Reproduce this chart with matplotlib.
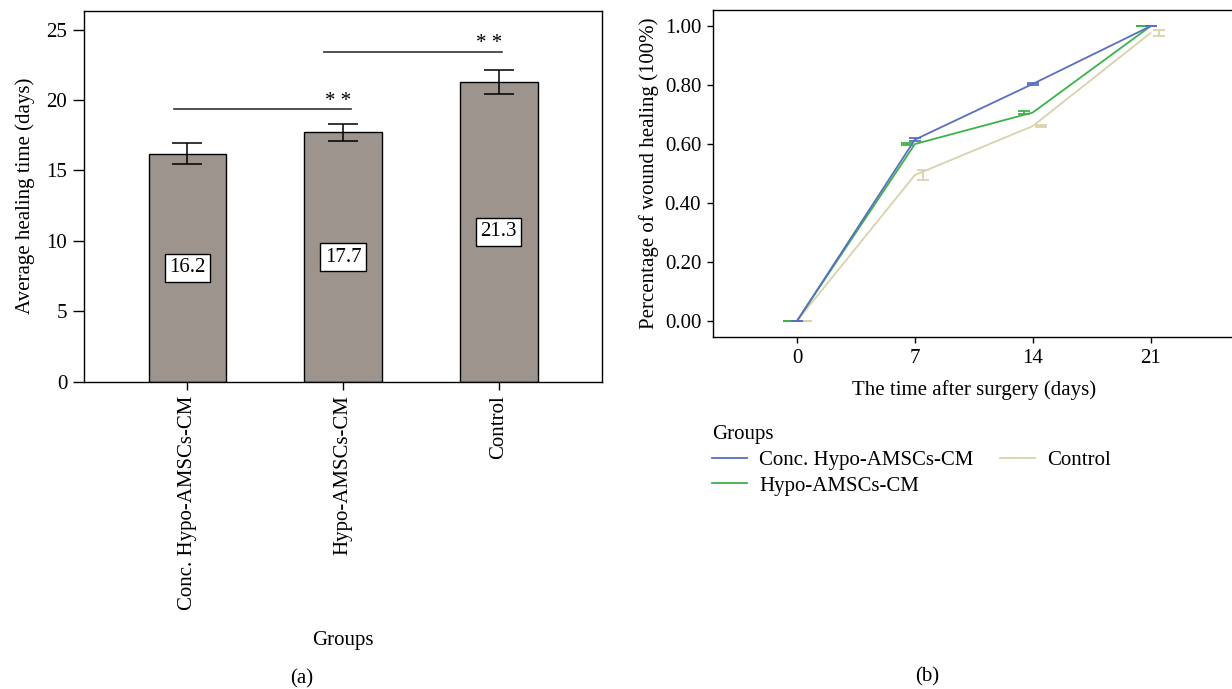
import matplotlib
matplotlib.use("Agg")
import matplotlib.pyplot as plt
import numpy as np

plt.rcParams['font.family'] = ['Liberation Serif', 'DejaVu Serif']
plt.rcParams['font.size'] = 15

# panel (a): average healing time
groups = ["Conc. Hypo-AMSCs-CM", "Hypo-AMSCs-CM", "Control"]
healing_days = [16.2, 17.7, 21.3]
healing_err = [0.75, 0.6, 0.85]

# panel (b): wound healing percentage over time
days = [0, 7, 14, 21]
conc_heal = [0.0, 0.615, 0.804, 1.0]
conc_err = [0.0, 0.005, 0.004, 0.0]
hypo_heal = [0.0, 0.600, 0.707, 1.0]
hypo_err = [0.0, 0.003, 0.005, 0.0]
ctrl_heal = [0.0, 0.495, 0.661, 0.977]
ctrl_err = [0.0, 0.018, 0.002, 0.010]

bar_color = '#9d948e'
c_conc = '#5a6fbe'
c_hypo = '#3bb34a'
c_ctrl = '#d8d2ad'

fig = plt.figure(figsize=(12.32, 6.89), dpi=100)

# ---- (a) ----
ax1 = fig.add_axes([0.0682, 0.446, 0.4205, 0.5385])
x = np.arange(len(groups))
ax1.bar(x, healing_days, width=0.5, color=bar_color, edgecolor='black', linewidth=1.0, zorder=2)
ax1.errorbar(x, healing_days, yerr=healing_err, fmt='none', ecolor='black',
             elinewidth=1.1, capsize=11, capthick=1.1, zorder=3)
for i, v in enumerate(healing_days):
    ax1.text(x[i], v / 2, f"{v}", ha='center', va='center', fontsize=15,
             bbox=dict(facecolor='white', edgecolor='black', boxstyle='square,pad=0.22', lw=1.0), zorder=4)

# significance markers
ax1.plot([-0.087, 1.048], [19.4, 19.4], color='#333333', lw=1.2)
ax1.text(0.967, 19.9, '* *', ha='center', va='center', fontsize=15)
ax1.plot([0.878, 2.02], [23.45, 23.45], color='#333333', lw=1.2)
ax1.text(1.94, 24.0, '* *', ha='center', va='center', fontsize=15)

ax1.set_xlim(-0.665, 2.665)
ax1.set_ylim(0, 26.35)
ax1.set_yticks([0, 5, 10, 15, 20, 25])
ax1.set_xticks(x)
ax1.set_xticklabels(groups, rotation=90)
ax1.tick_params(axis='y', length=8, width=1.0, pad=4)
ax1.tick_params(axis='x', length=6, width=1.0, pad=4)
ax1.set_ylabel('Average healing time (days)', labelpad=8)
ax1.set_xlabel('Groups', labelpad=15)
for s in ax1.spines.values():
    s.set_linewidth(1.0)

# ---- (b) ----
ax2 = fig.add_axes([0.5787, 0.5109, 0.4235, 0.4746])
d = np.array(days)
ax2.plot(d, ctrl_heal, color=c_ctrl, lw=1.3, label='Control', zorder=2)
ax2.plot(d, hypo_heal, color=c_hypo, lw=1.3, label='Hypo-AMSCs-CM', zorder=3)
ax2.plot(d, conc_heal, color=c_conc, lw=1.3, label='Conc. Hypo-AMSCs-CM', zorder=4)
ax2.errorbar(d - 0.5, hypo_heal, yerr=hypo_err, fmt='none', ecolor=c_hypo,
             elinewidth=1.3, capsize=4, capthick=1.3, zorder=3)
ax2.errorbar(d, conc_heal, yerr=conc_err, fmt='none', ecolor=c_conc,
             elinewidth=1.3, capsize=4, capthick=1.3, zorder=4)
ax2.errorbar(d + 0.5, ctrl_heal, yerr=ctrl_err, fmt='none', ecolor=c_ctrl,
             elinewidth=1.3, capsize=4, capthick=1.3, zorder=2)

ax2.set_xlim(-5, 26)
ax2.set_ylim(-0.055, 1.055)
ax2.set_xticks(days)
ax2.set_yticks([0, 0.2, 0.4, 0.6, 0.8, 1.0])
ax2.set_yticklabels([f"{t:.2f}" for t in [0, 0.2, 0.4, 0.6, 0.8, 1.0]])
ax2.tick_params(length=4.5, width=1.0, pad=4)
ax2.set_ylabel('Percentage of wound healing (100%)', labelpad=4)
ax2.set_xlabel('The time after surgery (days)', labelpad=9)
for s in ax2.spines.values():
    s.set_linewidth(1.0)

h, l = ax2.get_legend_handles_labels()
order = [2, 1, 0]
fig.legend([h[i] for i in order], [l[i] for i in order], title='Groups',
           loc='upper left', bbox_to_anchor=(712 / 1232, 1 - 425 / 689),
           ncol=2, frameon=False, alignment='left', fontsize=15, title_fontsize=15,
           handlelength=1.68, handletextpad=0.58, columnspacing=1.27,
           labelspacing=0.3, borderpad=0, borderaxespad=0)

fig.text(302 / 1232, 1 - 679 / 689, '(a)', ha='center', va='center', fontsize=15)
fig.text(927 / 1232, 1 - 677 / 689, '(b)', ha='center', va='center', fontsize=15)

fig.savefig('out.png', dpi=100)
